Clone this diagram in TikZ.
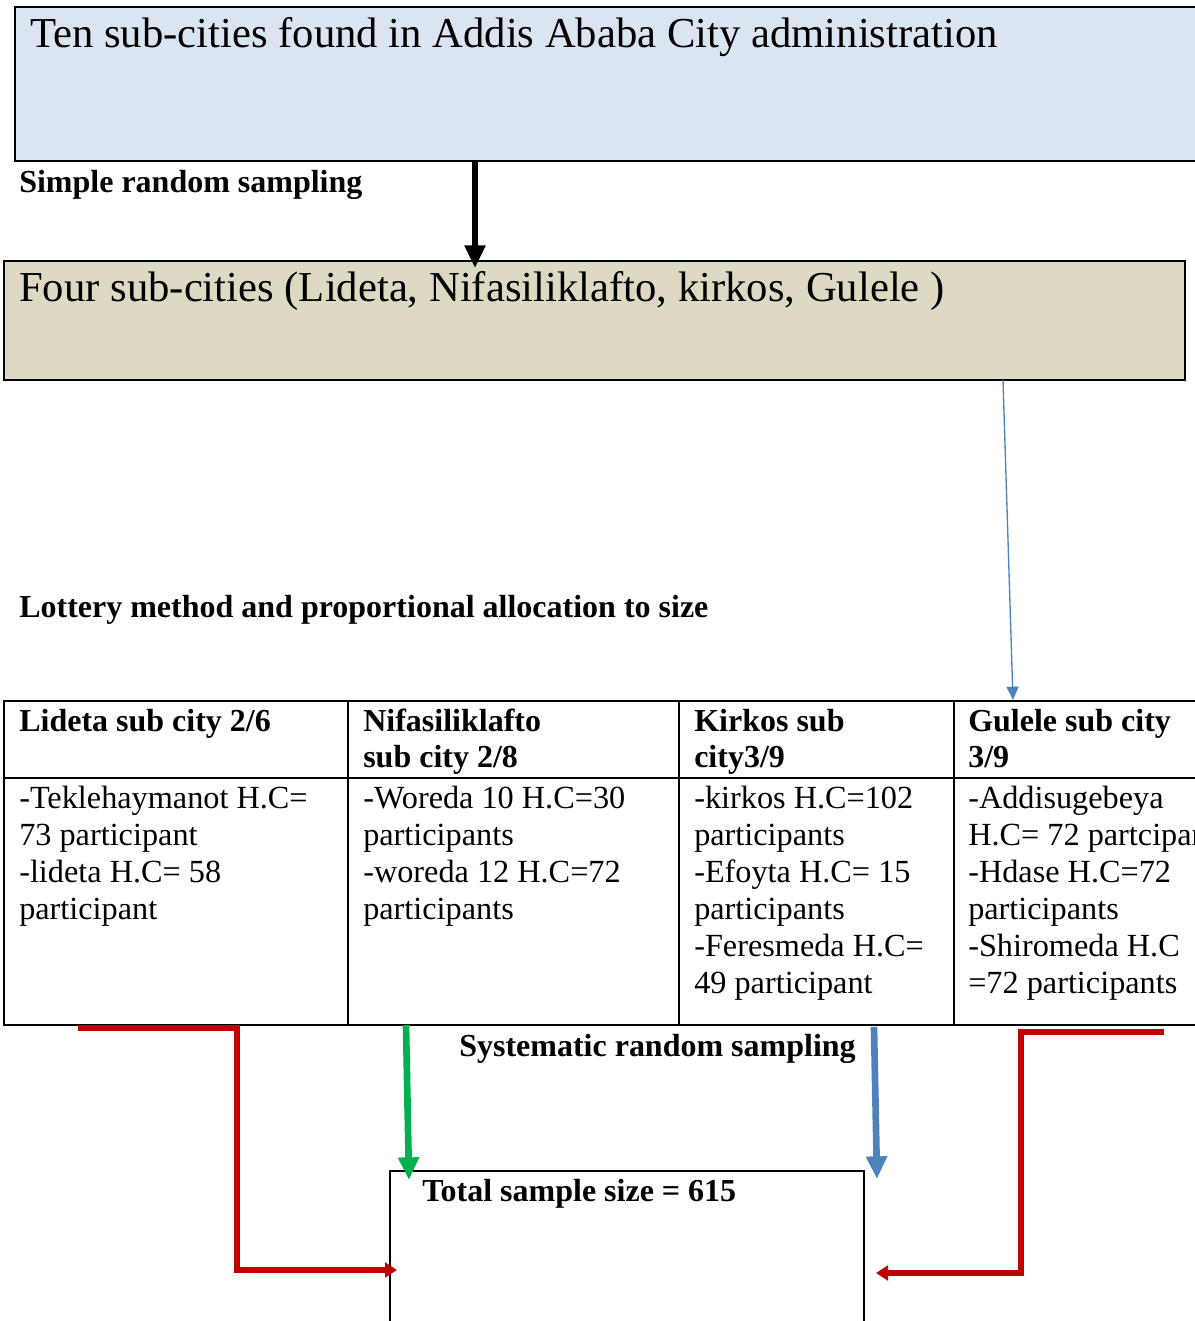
\documentclass[tikz,border=0pt]{standalone}
\usepackage{fontspec}
\setmainfont{Liberation Serif}
\usetikzlibrary{arrows.meta,fit}
\definecolor{boxblue}{HTML}{DBE5F1}
\definecolor{boxtan}{HTML}{DDD9C3}
\definecolor{ared}{HTML}{C00000}
\definecolor{agreen}{HTML}{00B050}
\definecolor{ablue}{HTML}{4F81BD}
\tikzset{
  box/.style={draw=black, line width=1.5pt, inner sep=0pt},
  cell/.style={draw=black, line width=1.5pt, inner sep=0pt},
  bigtxt/.style={anchor=base west, inner sep=0pt, font=\fontsize{32}{38}\selectfont},
  lbl/.style={anchor=base west, inner sep=0pt, font=\fontsize{24}{27}\selectfont\bfseries},
  hdr/.style={anchor=north west, inner sep=0pt, align=left, font=\fontsize{24}{27}\selectfont\bfseries},
  bodytxt/.style={anchor=north west, inner sep=0pt, align=left, font=\fontsize{24.2}{27.75}\selectfont},
  redarr/.style={draw=ared, line width=4pt, -{Triangle[length=9pt,width=11pt]}},
  fatarr/.style={line width=5pt, -{Triangle[length=17pt,width=15pt]}}
}
\begin{document}
\begin{tikzpicture}[x=0.75pt,y=-0.75pt]
\useasboundingbox (0,0) rectangle (1195,1321);
\clip (0,0) rectangle (1195,1321);
% boxes
\node[box, fill=boxblue, fit={(15,7) (1215,161)}] (top) {};
\node[box, fill=boxtan, fit={(4,261) (1185,380)}] (four) {};
\node[bigtxt] (toptxt) at (30,47) {Ten sub-cities found in Addis Ababa City administration};
\node[bigtxt] (fourtxt) at (19,301) {Four sub-cities (Lideta, Nifasiliklafto, kirkos, Gulele )};
\node[lbl] (srs) at (19,192) {Simple random sampling};
\node[lbl] (lot) at (19,617) {Lottery method and proportional allocation to size};
% table
\node[cell, fit={(4,701) (348,778)}] (h1) {};
\node[cell, fit={(348,701) (679,778)}] (h2) {};
\node[cell, fit={(679,701) (954,778)}] (h3) {};
\node[cell, fit={(954,701) (1230,778)}] (h4) {};
\node[cell, fit={(4,778) (348,1025)}] (b1) {};
\node[cell, fit={(348,778) (679,1025)}] (b2) {};
\node[cell, fit={(679,778) (954,1025)}] (b3) {};
\node[cell, fit={(954,778) (1230,1025)}] (b4) {};
\node[hdr] (h1t) at (19,706) {\strut Lideta sub city 2/6};
\node[hdr] (h2t) at (363,706) {\strut Nifasiliklafto\\sub city 2/8};
\node[hdr] (h3t) at (694,706) {\strut Kirkos sub\\city3/9};
\node[hdr] (h4t) at (968,706) {\strut Gulele sub city\\3/9};
\node[bodytxt] (b1t) at (19,782) {\strut -Teklehaymanot H.C=\\73 participant\\-lideta H.C= 58\\participant};
\node[bodytxt] (b2t) at (363,782) {\strut -Woreda 10 H.C=30\\participants\\-woreda 12 H.C=72\\participants};
\node[bodytxt] (b3t) at (694,782) {\strut -kirkos H.C=102\\participants\\-Efoyta H.C= 15\\participants\\-Feresmeda H.C=\\49 participant};
\node[bodytxt] (b4t) at (968,782) {\strut -Addisugebeya\\H.C= 72 partcipants\\-Hdase H.C=72\\participants\\-Shiromeda H.C\\=72 participants};
\node[lbl] (sys) at (459,1056) {Systematic random sampling};
% total box
\node[box, fit={(390,1171) (864,1340)}] (tot) {};
\node[lbl] (tott) at (422,1201) {Total sample size = 615};
% connectors
\coordinate (a1) at (475,161);
\coordinate (a2) at (475,268);
\draw[fatarr, black] (a1) -- (a2);
\coordinate (bs) at (1003,380);
\coordinate (be) at (1013,700);
\draw[draw=ablue, line width=1pt, -{Triangle[length=10pt,width=9pt]}] (bs) -- (be);
\coordinate (g1) at (406,1025);
\coordinate (g2) at (409,1180);
\draw[fatarr, agreen] (g1) -- (g2);
\coordinate (k1) at (874,1027);
\coordinate (k2) at (877,1179);
\draw[fatarr, ablue] (k1) -- (k2);
\coordinate (r1) at (78,1028);
\coordinate (r2) at (237,1028);
\coordinate (r3) at (237,1270);
\coordinate (r4) at (397,1270);
\draw[redarr, line join=miter] (r1) -- (r2) -- (r3) -- (r4);
\coordinate (s1) at (1164,1032);
\coordinate (s2) at (1021,1032);
\coordinate (s3) at (1021,1273);
\coordinate (s4) at (876,1273);
\draw[redarr, line join=miter] (s1) -- (s2) -- (s3) -- (s4);
\end{tikzpicture}
\end{document}
